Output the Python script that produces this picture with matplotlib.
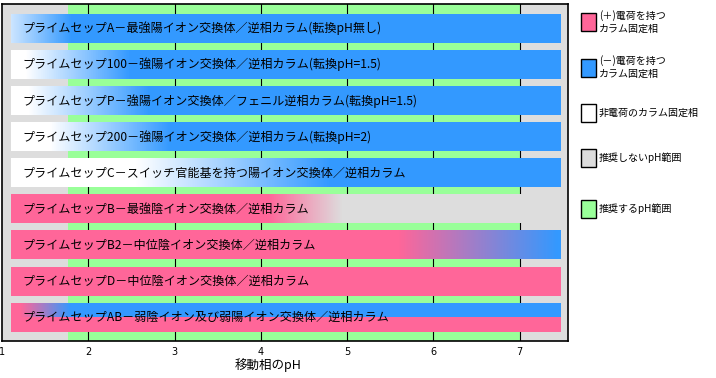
import numpy as np
import matplotlib
matplotlib.use("Agg")
import matplotlib.pyplot as plt
from matplotlib.patches import Rectangle

plt.rcParams["font.family"] = ["Noto Sans CJK JP", "DejaVu Sans"]

# colours of the original
PINK = "#ff6699"
BLUE = "#3399ff"
LIGHT_BLUE = "#cce5ff"
WHITE = "#ffffff"
GREY = "#dddddd"
GREEN = "#99ff99"

labels = [
    "プライムセップA－最強陽イオン交換体／逆相カラム(転換pH無し)",
    "プライムセップ100－強陽イオン交換体／逆相カラム(転換pH=1.5)",
    "プライムセップP－強陽イオン交換体／フェニル逆相カラム(転換pH=1.5)",
    "プライムセップ200－強陽イオン交換体／逆相カラム(転換pH=2)",
    "プライムセップC－スイッチ官能基を持つ陽イオン交換体／逆相カラム",
    "プライムセップB－最強陰イオン交換体／逆相カラム",
    "プライムセップB2－中位陰イオン交換体／逆相カラム",
    "プライムセップD－中位陰イオン交換体／逆相カラム",
    "プライムセップAB－弱陰イオン及び弱陽イオン交換体／逆相カラム",
]

# colour stops along pH for each bar (colour holds before first / after last stop)
stops = [
    [(1.1, LIGHT_BLUE), (1.8, BLUE)],
    [(1.27, WHITE), (2.48, BLUE)],
    [(1.3, WHITE), (2.7, BLUE)],
    [(1.55, WHITE), (2.95, BLUE)],
    [(2.55, WHITE), (4.8, BLUE)],
    [(4.08, PINK), (4.94, GREY)],
    [(5.59, PINK), (7.44, BLUE)],
    [(1.1, PINK), (7.47, PINK)],
    [(1.1, PINK), (7.47, PINK)],
]
# AB column: upper half of the bar carries the (-) charge
upper_stops = {8: [(1.21, PINK), (1.79, BLUE)]}

bar_start, bar_end = 1.1, 7.47
ok_lo, ok_hi = 1.76, 7.0
ph_ticks = [1, 2, 3, 4, 5, 6, 7]

legend_labels = [
    "(＋)電荷を持つ\nカラム固定相",
    "(－)電荷を持つ\nカラム固定相",
    "非電荷のカラム固定相",
    "推奨しないpH範囲",
    "推奨するpH範囲",
]
legend_colors = [PINK, BLUE, WHITE, GREY, GREEN]


def _ramp(st, xs):
    rgb = np.array([matplotlib.colors.to_rgb(c) for _, c in st])
    pos = [p for p, _ in st]
    return np.stack([np.interp(xs, pos, rgb[:, k]) for k in range(3)], axis=-1)


W, H = 716, 378
fig = plt.figure(figsize=(W / 100, H / 100), dpi=100)
ax = fig.add_axes([2 / W, 1 - 341 / H, 566 / W, 337 / H])
ax.set_facecolor(GREY)
ax.axvspan(ok_lo, ok_hi, color=GREEN, zorder=0, lw=0)
for t in ph_ticks[1:]:
    ax.axvline(t, color="black", lw=0.8, zorder=1)

xs = np.linspace(bar_start, bar_end, 800)
h = 0.80
for i, (lab, st) in enumerate(zip(labels, stops)):
    row = _ramp(st, xs)
    if i in upper_stops:
        img = np.stack([_ramp(upper_stops[i], xs), row])
    else:
        img = row[None, :, :]
    ax.imshow(img, extent=(bar_start, bar_end, i + h / 2, i - h / 2),
              aspect="auto", interpolation="nearest", zorder=2)
    ax.text(1.24, i, lab, ha="left", va="center", fontsize=8.7,
            color="black", zorder=3)

ax.set_xlim(1, 7.56)
ax.set_ylim(8.66, -0.68)
ax.set_yticks([])
ax.set_xticks(ph_ticks)
ax.set_xticklabels([str(t) for t in ph_ticks], fontsize=7, family="DejaVu Sans")
ax.tick_params(axis="x", length=0, pad=4)
for s in ax.spines.values():
    s.set_linewidth(1.2)
    s.set_color("black")

fig.text(268 / W, 1 - 365 / H, "移動相のpH", ha="center", va="center", fontsize=9)

# legend drawn in pixel space on the right
lg = fig.add_axes([0, 0, 1, 1])
lg.set_xlim(0, W)
lg.set_ylim(H, 0)
lg.axis("off")
centers = [22, 67.5, 112.5, 157.5, 209]
for yc, lab, col in zip(centers, legend_labels, legend_colors):
    lg.add_patch(Rectangle((581, yc - 9), 15, 18, facecolor=col,
                           edgecolor="black", lw=1))
    lines = lab.split("\n")
    for k, ln in enumerate(lines):
        yy = yc + (k - (len(lines) - 1) / 2) * 13.5
        lg.text(599, yy, ln, ha="left", va="center", fontsize=7.2)

fig.savefig("out.png", dpi=100, facecolor="white")
